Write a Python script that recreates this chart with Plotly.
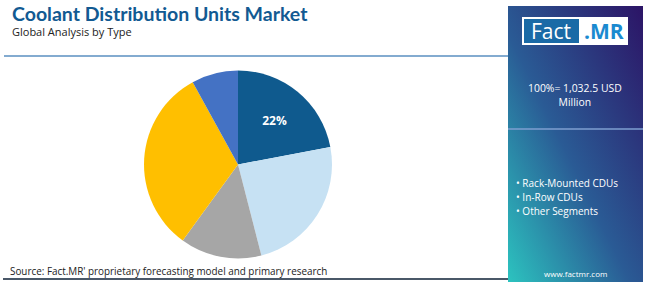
import base64
import plotly.graph_objects as go

# ---- data ----
segments = ["Rack-Mounted CDUs", "In-Row CDUs", "Other Segments", "Segment D", "Segment E"]
shares = [22, 24, 14, 32, 8]
slice_colors = ["#0f5a8e", "#c6e1f3", "#a6a6a6", "#ffbf00", "#4472c4"]
shown_labels = ["<b>%{value}%</b>", "", "", "", ""]
legend_items = ["Rack-Mounted CDUs", "In-Row CDUs", "Other Segments"]
title_text = "Coolant Distribution Units Market"
subtitle_text = "Global Analysis by Type"
total_text = "100%= 1,032.5 USD<br>Million"
source_text = "Source: Fact.MR' proprietary forecasting model and primary research"

W, H = 650, 282
FONT = "Open Sans"

def px(x):
    return x / W

def py(y):
    return 1 - y / H

fig = go.Figure()
fig.add_trace(go.Pie(
    labels=segments, values=shares, sort=False, direction="clockwise", rotation=0,
    marker=dict(colors=slice_colors, line=dict(width=0)),
    texttemplate=shown_labels, textposition="inside",
    insidetextfont=dict(color="white", size=12, family=FONT),
    domain=dict(x=[px(144), px(332)], y=[py(259), py(70)]),
    showlegend=False, hoverinfo="label+percent",
))

svg = (
    '<svg xmlns="http://www.w3.org/2000/svg" width="135" height="276" preserveAspectRatio="none">'
    '<defs><linearGradient id="g" x1="0" y1="1" x2="1" y2="0">'
    '<stop offset="0" stop-color="#2cc3bf"/>'
    '<stop offset="0.45" stop-color="#2a5b95"/>'
    '<stop offset="1" stop-color="#2c1466"/>'
    '</linearGradient></defs>'
    '<rect width="135" height="276" fill="url(#g)"/></svg>'
)
src = "data:image/svg+xml;base64," + base64.b64encode(svg.encode()).decode()
fig.add_layout_image(dict(source=src, xref="paper", yref="paper",
                          x=px(508), y=py(6), sizex=px(643) - px(508), sizey=(276) / H,
                          xanchor="left", yanchor="top", sizing="stretch", layer="below"))

shapes = [
    dict(type="line", x0=px(4), x1=px(508), y0=py(56), y1=py(56), line=dict(color="#5a8fc0", width=1.5)),
    dict(type="line", x0=px(3), x1=px(508), y0=py(279), y1=py(279), line=dict(color="#4a5868", width=2)),
    dict(type="line", x0=px(508), x1=px(643), y0=py(129), y1=py(129), line=dict(color="#7f9fd0", width=1.5)),
    dict(type="rect", x0=px(522), x1=px(628), y0=py(45), y1=py(17), fillcolor="white", line=dict(width=0)),
    dict(type="rect", x0=px(524), x1=px(579), y0=py(43), y1=py(19), fillcolor="#1a6aa6", line=dict(width=0)),
]
for s in shapes:
    s.update(xref="paper", yref="paper")
    fig.add_shape(**s)

ann = [
    dict(x=px(10), y=py(14), text=f"<b>{title_text}</b>", font=dict(size=19.5, color="#125a92", family="Lato"), xanchor="left"),
    dict(x=px(10), y=py(32), text=subtitle_text, font=dict(size=11, color="#222222", family=FONT), xanchor="left"),
    dict(x=px(8), y=py(271), text=source_text, font=dict(size=9.9, color="#222222", family=FONT), xanchor="left"),
    dict(x=px(551), y=py(31), text="Fact", font=dict(size=21, color="white", family=FONT), xanchor="center"),
    dict(x=px(604), y=py(31), text="<b>.MR</b>", font=dict(size=21, color="#1a8ad0", family=FONT), xanchor="center"),
    dict(x=px(575), y=py(94.5), text=total_text, font=dict(size=10.4, color="white", family=FONT), xanchor="center"),
    dict(x=px(575), y=py(273), text="www.factmr.com", font=dict(size=8, color="white", family=FONT), xanchor="center"),
]
for i, item in enumerate(legend_items):
    ann.append(dict(x=px(514), y=py(183 + i * 14), text="• " + item,
                    font=dict(size=10, color="white", family=FONT), xanchor="left"))
for a in ann:
    a.update(xref="paper", yref="paper", showarrow=False, yanchor="middle")
    fig.add_annotation(**a)

fig.update_layout(width=W, height=H, margin=dict(l=0, r=0, t=0, b=0),
                  paper_bgcolor="white", plot_bgcolor="white")
fig.write_html("out.html")
